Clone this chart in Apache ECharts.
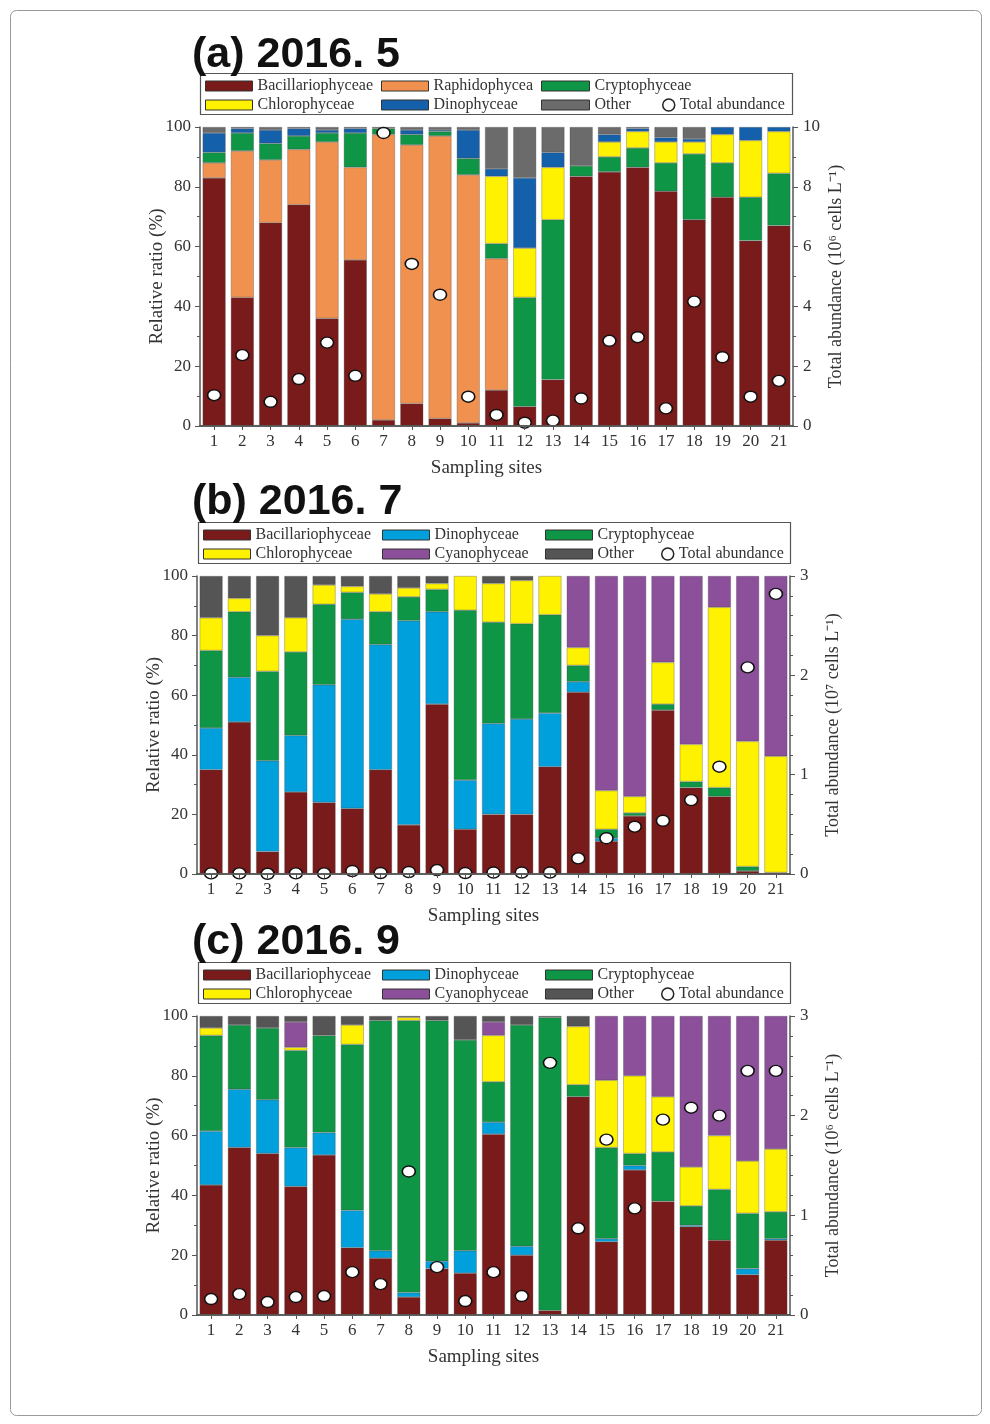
<!DOCTYPE html>
<html><head><meta charset="utf-8">
<script src="https://cdn.jsdelivr.net/npm/echarts@6/dist/echarts.min.js"></script>
<style>html,body{margin:0;padding:0;background:#fff}#c{width:990px;height:1424px}</style>
</head><body><div id="c"></div>
<script>
// ---------- DATA ----------
const sites = ['1','2','3','4','5','6','7','8','9','10','11','12','13','14','15','16','17','18','19','20','21'];

// (a) 2016.5  (%)
const a_bac    = [83,43,68,74,36,55.5,2,7.5,2.5,1,12,6.5,15.5,83.5,85,86.5,78.5,69,76.5,62,67];
const a_raph   = [5,49,21,18.5,59,31,95.5,86.5,94.5,83,44,0,0,0,0,0,0,0,0,0,0];
const a_crypt  = [3.5,6,5.5,4.5,3,11.5,2,3.5,1.5,5.5,5,36.5,53.5,3.5,5,6.5,9.5,22,11.5,14.5,17.5];
const a_chloro = [0,0,0,0,0,0,0,0,0,0,22.5,16.5,17.5,0,5,5.5,7,4,9.5,19,14];
const a_dino   = [6.5,1.5,4.5,2.5,1,1.5,0,1.5,0.5,9.5,2.5,23.5,5,0,2.5,1,1.5,1,2.5,4.5,1.5];
const a_other  = [2,0.5,1,0.5,1,0.5,0.5,1,1,1,14,17,8.5,13,2.5,0.5,3.5,4,0,0,0];
const a_total  = [1.03,2.37,0.81,1.57,2.79,1.68,9.8,5.42,4.39,0.98,0.37,0.11,0.18,0.92,2.85,2.97,0.59,4.16,2.3,0.98,1.51]; // 10^6 cells/L

// (b) 2016.7  (%)
const b_bac    = [35,51,7.5,27.5,24,22,35,16.5,57,15,20,20,36,61,11,19.5,55,29,26,1,0.5];
const b_dino   = [14,15,30.5,19,39.5,63.5,42,68.5,31,16.5,30.5,32,18,3.5,1,0,0,0,0,0,0];
const b_crypt  = [26,22,30,28,27,9,11,8,7.5,57,34,32,33,5.5,3,1,2,2,3,1.5,0];
const b_chloro = [11,4.5,12,11.5,6.5,2,6,3,2,11.5,13,14.5,13,6,13,5.5,14,12.5,60.5,42,39];
const b_cyano  = [0,0,0,0,0,0,0,0,0,0,0,0,0,24,72,74,29,56.5,10.5,55.5,60.5];
const b_other  = [14,7.5,20,14,3,3.5,6,4,2.5,0,2.5,1.5,0,0,0,0,0,0,0,0,0];
const b_total  = [0.006,0.006,0.002,0.006,0.006,0.03,0.01,0.02,0.04,0.01,0.015,0.015,0.015,0.157,0.36,0.476,0.536,0.744,1.08,2.08,2.82]; // 10^7 cells/L

// (c) 2016.9  (%)
const c_bac    = [43.5,56,54,43,53.5,22.5,19,6,15.5,14,60.5,20,1.5,73,24.5,48.5,38,29.5,25,13.5,25];
const c_dino   = [18,19.5,18,13,7.5,12.5,2.5,1.5,2.5,7.5,4,3,0,0,1,1.5,0,0.5,0,2,0.5];
const c_crypt  = [32,21.5,24,32.5,32.5,55.5,77,91,80.5,70.5,13.5,74,98,4,30.5,4,16.5,6.5,17,18.5,9];
const c_chloro = [2.5,0,0,1,0,6.5,0,1,0,0,15.5,0,0,19.5,22.5,26,18.5,13,18,17.5,21];
const c_cyano  = [0,0,0,8.5,0,0,0,0,0,0,4.5,0,0,0,21.5,20,27,50.5,40,48.5,44.5];
const c_other  = [4,3,4,2,6.5,3,1.5,0.5,1.5,8,2,3,0.5,3.5,0,0,0,0,0,0,0];
const c_total  = [0.16,0.21,0.13,0.18,0.19,0.43,0.31,1.44,0.48,0.14,0.43,0.19,2.53,0.87,1.76,1.07,1.96,2.08,2.0,2.45,2.45]; // 10^6 cells/L

// ---------- STYLE ----------
const COL = {
  bac:'#7a1b1b', raph:'#f19150', crypt:'#0e9646', chloro:'#fff200',
  dinoA:'#1560aa', dinoB:'#00a0dd', cyano:'#8c509b', otherA:'#6b6b6b', otherB:'#555555'
};
const SERIF = '"Liberation Serif","Times New Roman",serif';
const SANS = '"Liberation Sans",Arial,sans-serif';

const panels = [
  { title:'(a) 2016. 5', titleTop:29, left:200, right:197, top:127, height:299,
    box:[200,73,592,41], legTop:78,
    cols:[{left:205,w:47,names:['Bacillariophyceae','Chlorophyceae']},
          {left:381,w:47,names:['Raphidophycea','Dinophyceae']},
          {left:541,w:48,names:['Cryptophyceae','Other']}],
    totalLeft:662,
    rightMax:10, rightInterval:2, rightMinor:2,
    rightName:'Total abundance (10\u2076 cells L\u207B\u00B9)',
    groups:[['Bacillariophyceae',a_bac,COL.bac],['Raphidophycea',a_raph,COL.raph],['Cryptophyceae',a_crypt,COL.crypt],
            ['Chlorophyceae',a_chloro,COL.chloro],['Dinophyceae',a_dino,COL.dinoA],['Other',a_other,COL.otherA]],
    total:a_total },
  { title:'(b) 2016. 7', titleTop:476, left:197, right:200, top:576, height:298,
    box:[198,522,592,41], legTop:527,
    cols:[{left:203,w:47,names:['Bacillariophyceae','Chlorophyceae']},
          {left:382,w:47,names:['Dinophyceae','Cyanophyceae']},
          {left:545,w:47,names:['Cryptophyceae','Other']}],
    totalLeft:661,
    rightMax:3, rightInterval:1, rightMinor:5,
    rightName:'Total abundance (10\u2077 cells L\u207B\u00B9)',
    groups:[['Bacillariophyceae',b_bac,COL.bac],['Dinophyceae',b_dino,COL.dinoB],['Cryptophyceae',b_crypt,COL.crypt],
            ['Chlorophyceae',b_chloro,COL.chloro],['Cyanophyceae',b_cyano,COL.cyano],['Other',b_other,COL.otherB]],
    total:b_total },
  { title:'(c) 2016. 9', titleTop:916, left:197, right:200, top:1016, height:299,
    box:[198,962,592,41], legTop:967,
    cols:[{left:203,w:47,names:['Bacillariophyceae','Chlorophyceae']},
          {left:382,w:47,names:['Dinophyceae','Cyanophyceae']},
          {left:545,w:47,names:['Cryptophyceae','Other']}],
    totalLeft:661,
    rightMax:3, rightInterval:1, rightMinor:5,
    rightName:'Total abundance (10\u2076 cells L\u207B\u00B9)',
    groups:[['Bacillariophyceae',c_bac,COL.bac],['Dinophyceae',c_dino,COL.dinoB],['Cryptophyceae',c_crypt,COL.crypt],
            ['Chlorophyceae',c_chloro,COL.chloro],['Cyanophyceae',c_cyano,COL.cyano],['Other',c_other,COL.otherB]],
    total:c_total }
];

const option = {
  backgroundColor:'#fff', animation:false,
  title:[], grid:[], xAxis:[], yAxis:[], series:[], legend:[],
  graphic:[{type:'rect', shape:{x:10.5,y:10.5,width:971,height:1405,r:6}, style:{fill:'none',stroke:'#9a9a9a',lineWidth:1}, z:100}]
};

const axisLineStyle = {color:'#555', width:1.5};
const tickLabel = {fontFamily:SERIF, fontSize:17, color:'#333'};

panels.forEach((p, i) => {
  const gi = i;
  option.title.push({text:p.title, left:187, top:p.titleTop,
    textStyle:{fontFamily:SANS, fontWeight:'bold', fontSize:43, color:'#111'}});
  option.grid.push({left:p.left, right:p.right, top:p.top, height:p.height, containLabel:false});
  option.xAxis.push({type:'category', gridIndex:gi, data:sites, position:'bottom', z:10,
    axisLine:{lineStyle:axisLineStyle}, axisTick:{show:true, alignWithLabel:true, length:4, lineStyle:{color:'#555'}},
    axisLabel:{...tickLabel, margin:7},
    name:'Sampling sites', nameLocation:'middle', nameGap:33, nameMoveOverlap:false,
    nameTextStyle:{fontFamily:SERIF, fontSize:19, color:'#333', padding:[0,20,0,0]}});
  option.xAxis.push({type:'category', gridIndex:gi, data:sites, position:'top', z:10,
    axisLine:{lineStyle:axisLineStyle}, axisTick:{show:false}, axisLabel:{show:false}});
  option.yAxis.push({type:'value', gridIndex:gi, min:0, max:100, interval:20, position:'left', z:10,
    axisLine:{show:true, lineStyle:axisLineStyle}, axisTick:{show:true, length:5, lineStyle:{color:'#555'}},
    minorTick:{show:true, splitNumber:2, length:3, lineStyle:{color:'#555'}},
    splitLine:{show:false}, axisLabel:{...tickLabel, margin:9},
    name:'Relative ratio (%)', nameLocation:'middle', nameGap:33, nameMoveOverlap:false,
    nameTextStyle:{fontFamily:SERIF, fontSize:19, color:'#333'}});
  option.yAxis.push({type:'value', gridIndex:gi, min:0, max:p.rightMax, interval:p.rightInterval, position:'right', z:10,
    axisLine:{show:true, lineStyle:axisLineStyle}, axisTick:{show:true, length:5, lineStyle:{color:'#555'}},
    minorTick:{show:true, splitNumber:p.rightMinor, length:3, lineStyle:{color:'#555'}},
    splitLine:{show:false}, axisLabel:{...tickLabel, margin:10},
    name:p.rightName, nameLocation:'middle', nameGap:34, nameRotate:90, nameMoveOverlap:false,
    nameTextStyle:{fontFamily:SERIF, fontSize:18, color:'#333'}});

  const xi = gi*2, yl = gi*2, yr = gi*2+1;
  p.groups.forEach(([name, arr, color]) => {
    option.series.push({type:'bar', name, xAxisIndex:xi, yAxisIndex:yl, stack:'s'+gi,
      barWidth:23, data:arr.map(v => v > 0 ? v : '-'),
      itemStyle:{color, borderColor:'rgba(70,70,70,0.55)', borderWidth:0.6}, z:2});
  });
  option.series.push({type:'scatter', name:'Total abundance', xAxisIndex:xi, yAxisIndex:yr,
    data:p.total, symbol:'circle', symbolSize:[13,11],
    itemStyle:{color:'#fff', borderColor:'#111', borderWidth:1.5, opacity:1}, z:5});

  option.graphic.push({type:'rect', shape:{x:p.box[0]+0.5, y:p.box[1]+0.5, width:p.box[2], height:p.box[3]},
    style:{fill:'#fff', stroke:'#555', lineWidth:1.2}, z:-1});
  const colorOf = {};
  p.groups.forEach(([n,,c]) => colorOf[n] = c);
  p.cols.forEach(col => {
    option.legend.push({orient:'vertical', left:col.left, top:p.legTop, itemWidth:col.w, itemHeight:10, itemGap:3,
      selectedMode:false, padding:0, icon:'rect',
      textStyle:{fontFamily:SERIF, fontSize:16, color:'#333'},
      data:col.names.map(n => ({name:n, icon:'rect', itemStyle:{color:colorOf[n], borderColor:'#333', borderWidth:1}}))});
  });
  option.legend.push({orient:'vertical', left:p.totalLeft, top:p.legTop+19, itemWidth:12, itemHeight:12,
    selectedMode:false, padding:0,
    textStyle:{fontFamily:SERIF, fontSize:16, color:'#333'},
    data:[{name:'Total abundance', icon:'circle', itemStyle:{color:'#fff', borderColor:'#222', borderWidth:1.5}}]});
});

const chart = echarts.init(document.getElementById('c'));
chart.setOption(option);
</script>
</body></html>
